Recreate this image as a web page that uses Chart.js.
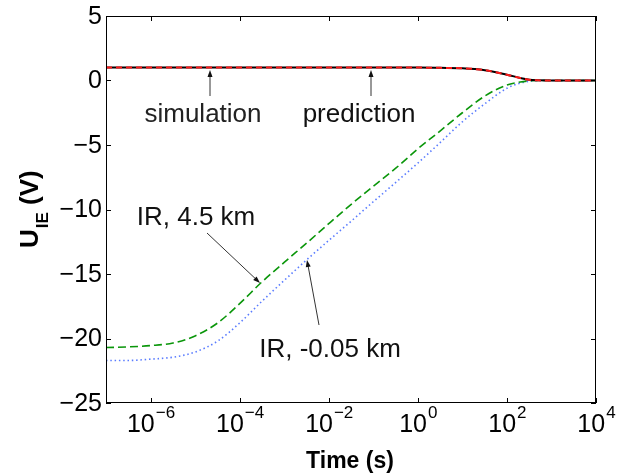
<!DOCTYPE html>
<html>
<head>
<meta charset="utf-8">
<script src="https://cdn.jsdelivr.net/npm/chart.js@4"></script>
<style>
	html, body { margin: 0; padding: 0; background: #fff; }
	#wrap { width: 618px; height: 476px; }
</style>
</head>
<body>
<div id="wrap"><canvas id="chart" width="618" height="476"></canvas></div>
<script>
// time samples (s)
const times = [1e-7, 3.2e-7, 1e-6, 3.2e-6, 1e-5, 3.2e-5, 1e-4, 3.2e-4, 1e-3, 3.2e-3, 1e-2, 3.2e-2,
	0.1, 0.32, 1, 3.2, 10, 32, 100, 200, 320, 500, 1000, 1e4];

const simulation = [1, 1, 1, 1, 1, 1, 1, 1, 1, 1, 1, 1,
	1, 1, 1, 0.98, 0.95, 0.8, 0.45, 0.2, 0.05, 0.01, 0, 0];
const prediction = [1, 1, 1, 1, 1, 1, 1, 1, 1, 1, 1, 1,
	1, 1, 1, 0.98, 0.95, 0.8, 0.45, 0.2, 0.05, 0.01, 0, 0];
const ir45 = [-20.7, -20.65, -20.55, -20.35, -19.8, -18.8, -17.3, -15.6, -14.1, -12.6, -11.1, -9.6,
	-8.2, -6.8, -5.3, -3.9, -2.5, -1.2, -0.35, -0.12, -0.03, 0, 0, 0];
const ir005 = [-21.7, -21.7, -21.6, -21.45, -21.05, -20.2, -18.8, -17.1, -15.5, -13.9, -12.4, -10.9,
	-9.4, -7.9, -6.4, -4.8, -3.2, -1.8, -0.6, -0.2, -0.06, -0.01, 0, 0];

const xTicks = [1e-6, 1e-4, 1e-2, 1, 1e2, 1e4];
const xTickExp = ["\u22126", "\u22124", "\u22122", "0", "2", "4"];
const yTicks = [-25, -20, -15, -10, -5, 0, 5];

// annotations: text, arrow
const notes = [
	{text: "simulation", x: 203, y: 122, from: [210, 96], to: [210, 70]},
	{text: "prediction", x: 359, y: 122, from: [371, 96], to: [371, 70]},
	{text: "IR, 4.5 km", x: 196, y: 225, from: [207, 233], to: [260, 283]},
	{text: "IR, -0.05 km", x: 330, y: 357, from: [319, 325], to: [307, 260]},
];

const pts = function(ys) {
	return times.map((t, i) => ({x: t, y: ys[i]}));
}

const FONT = "'Liberation Sans', Arial, Helvetica, sans-serif";

const arrow = function(ctx, from, to) {
	const [x1, y1] = from, [x2, y2] = to;
	const a = Math.atan2(y2 - y1, x2 - x1);
	ctx.strokeStyle = "#333";
	ctx.lineWidth = 1;
	ctx.beginPath();
	ctx.moveTo(x1, y1);
	ctx.lineTo(x2 - 5 * Math.cos(a), y2 - 5 * Math.sin(a));
	ctx.stroke();
	ctx.fillStyle = "#111";
	ctx.beginPath();
	ctx.moveTo(x2, y2);
	ctx.lineTo(x2 - 7 * Math.cos(a) + 2.5 * Math.sin(a), y2 - 7 * Math.sin(a) - 2.5 * Math.cos(a));
	ctx.lineTo(x2 - 7 * Math.cos(a) - 2.5 * Math.sin(a), y2 - 7 * Math.sin(a) + 2.5 * Math.cos(a));
	ctx.closePath();
	ctx.fill();
}

const decor = {
	id: "decor",
	afterDraw(chart) {
		const ctx = chart.ctx;
		const {left, right, top, bottom} = chart.chartArea;
		const xs = chart.scales.x, ys = chart.scales.y;
		ctx.save();
		// frame
		ctx.strokeStyle = "#000";
		ctx.lineWidth = 1;
		ctx.strokeRect(left + 0.5, top + 0.5, right - left - 1, bottom - top - 1);
		// inward ticks
		ctx.beginPath();
		for (const t of xTicks) {
			const px = Math.round(xs.getPixelForValue(t)) + 0.5;
			ctx.moveTo(px, bottom); ctx.lineTo(px, bottom - 5);
			ctx.moveTo(px, top); ctx.lineTo(px, top + 5);
		}
		for (const v of yTicks) {
			const py = Math.round(ys.getPixelForValue(v)) + 0.5;
			ctx.moveTo(left, py); ctx.lineTo(left + 5, py);
			ctx.moveTo(right, py); ctx.lineTo(right - 5, py);
		}
		ctx.stroke();
		ctx.fillStyle = "#000";
		// y tick labels
		ctx.font = `25px ${FONT}`;
		ctx.textAlign = "right";
		ctx.textBaseline = "middle";
		for (const v of yTicks) {
			ctx.fillText(String(v).replace("-", "\u2212"), left - 4, ys.getPixelForValue(v) + 1);
		}
		// x tick labels 10^n
		ctx.textBaseline = "alphabetic";
		ctx.textAlign = "left";
		xTicks.forEach((t, i) => {
			const px = xs.getPixelForValue(t);
			ctx.font = `25px ${FONT}`;
			const wb = ctx.measureText("10").width;
			ctx.font = `17px ${FONT}`;
			const we = ctx.measureText(xTickExp[i]).width;
			const x0 = px - (wb + we) / 2;
			ctx.font = `25px ${FONT}`;
			ctx.fillText("10", x0, 432);
			ctx.font = `17px ${FONT}`;
			ctx.fillText(xTickExp[i], x0 + wb + 1, 418);
		});
		// x title
		ctx.font = `bold 23px ${FONT}`;
		ctx.textAlign = "center";
		ctx.fillText("Time (s)", 350, 468);
		// y title with subscript
		ctx.save();
		ctx.translate(38, 248);
		ctx.rotate(-Math.PI / 2);
		ctx.textAlign = "left";
		ctx.font = `bold 26px ${FONT}`;
		const wu = ctx.measureText("U").width;
		ctx.fillText("U", 0, 0);
		ctx.font = `bold 17px ${FONT}`;
		const wi = ctx.measureText("IE").width;
		ctx.fillText("IE", wu + 1, 10);
		ctx.font = `bold 26px ${FONT}`;
		ctx.fillText(" (V)", wu + wi + 1, 0);
		ctx.restore();
		// annotations
		ctx.font = `26px ${FONT}`;
		ctx.fillStyle = "#222";
		ctx.textAlign = "center";
		for (const n of notes) {
			ctx.fillText(n.text, n.x, n.y);
			arrow(ctx, n.from, n.to);
		}
		ctx.restore();
	}
};

new Chart(document.getElementById("chart"), {
	type: "line",
	data: {
		datasets: [
			{label: "prediction", data: pts(prediction), borderColor: "#ff1a1a", borderWidth: 2, borderDash: [6, 4], order: 0},
			{label: "simulation", data: pts(simulation), borderColor: "#000", borderWidth: 2, order: 1},
			{label: "IR, 4.5 km", data: pts(ir45), borderColor: "#0a960a", borderWidth: 1.6, borderDash: [8, 4], order: 2},
			{label: "IR, -0.05 km", data: pts(ir005), borderColor: "#5a7cff", borderWidth: 1.6, borderDash: [1.5, 2.8], order: 3},
		]
	},
	options: {
		responsive: false,
		animation: false,
		events: [],
		layout: {padding: {top: 16, right: 22, left: 0, bottom: 0}},
		elements: {
			point: {radius: 0},
			line: {cubicInterpolationMode: "monotone", fill: false}
		},
		plugins: {legend: {display: false}, tooltip: {enabled: false}},
		scales: {
			x: {
				type: "logarithmic",
				min: 1e-7,
				max: 1e4,
				grid: {display: false},
				border: {display: false},
				ticks: {display: false},
				afterFit(scale) { scale.height = 73; }
			},
			y: {
				min: -25,
				max: 5,
				grid: {display: false},
				border: {display: false},
				ticks: {display: false},
				afterFit(scale) { scale.width = 106; }
			}
		}
	},
	plugins: [decor]
});
</script>
</body>
</html>
